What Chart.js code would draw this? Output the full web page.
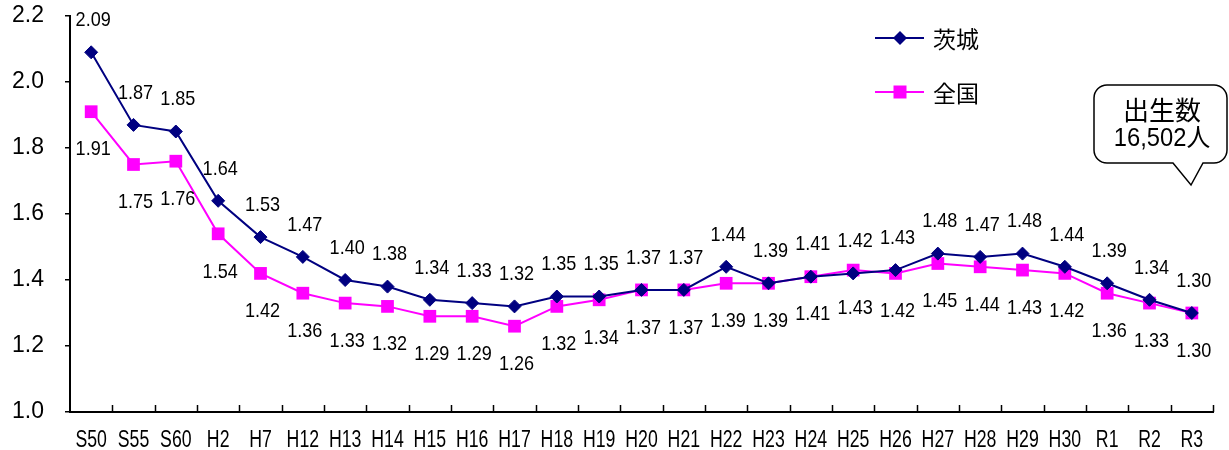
<!DOCTYPE html>
<html>
<head>
<meta charset="utf-8">
<script src="https://cdn.jsdelivr.net/npm/chart.js@4.4.1/dist/chart.umd.min.js"></script>
<style>
  html, body { margin: 0; padding: 0; background: #fff; }
  #wrap { width: 1229px; height: 450px; position: relative; }
</style>
</head>
<body>
<div id="wrap"><canvas id="c" width="1229" height="450"></canvas></div>
<script>
// 合計特殊出生率の推移（茨城・全国）
const categories = ['S50','S55','S60','H2','H7','H12','H13','H14','H15','H16','H17','H18','H19','H20','H21','H22','H23','H24','H25','H26','H27','H28','H29','H30','R1','R2','R3'];
const ibaraki = [2.09,1.87,1.85,1.64,1.53,1.47,1.40,1.38,1.34,1.33,1.32,1.35,1.35,1.37,1.37,1.44,1.39,1.41,1.42,1.43,1.48,1.47,1.48,1.44,1.39,1.34,1.30];
const zenkoku = [1.91,1.75,1.76,1.54,1.42,1.36,1.33,1.32,1.29,1.29,1.26,1.32,1.34,1.37,1.37,1.39,1.39,1.41,1.43,1.42,1.45,1.44,1.43,1.42,1.36,1.33,1.30];
const seriesNames = ['茨城', '全国'];
const yTicks = [1.0, 1.2, 1.4, 1.6, 1.8, 2.0, 2.2];
const calloutLines = ['出生数', '16,502人'];

const NUM_FONT = '"Liberation Sans", "Noto Sans CJK JP", sans-serif';
const JP_FONT = '"Noto Sans CJK JP", sans-serif';

// draw text squeezed horizontally (narrow gothic look)
function narrowText(ctx, text, x, y, sx) {
  ctx.save();
  ctx.translate(x, y);
  ctx.scale(sx, 1);
  ctx.fillText(text, 0, 0);
  ctx.restore();
}

// value labels: first series above its points, second below
const valueLabels = {
  id: 'valueLabels',
  afterDatasetsDraw(chart) {
    const ctx = chart.ctx;
    ctx.save();
    ctx.font = '21px ' + NUM_FONT;
    ctx.fillStyle = '#000';
    ctx.textAlign = 'center';
    ctx.textBaseline = 'middle';
    chart.data.datasets.forEach((ds, di) => {
      const meta = chart.getDatasetMeta(di);
      meta.data.forEach((pt, i) => {
        const dy = di === 0 ? -32 : 38;
        narrowText(ctx, ds.data[i].toFixed(2), pt.x + 2, pt.y + dy, 0.86);
      });
    });
    ctx.restore();
  }
};

// category labels and upward tick marks along the bottom axis
const categoryAxis = {
  id: 'categoryAxis',
  afterDraw(chart) {
    const x = chart.scales.x, ctx = chart.ctx;
    const n = chart.data.labels.length;
    const step = (x.right - x.left) / n;
    ctx.save();
    ctx.strokeStyle = '#000';
    ctx.lineWidth = 1.5;
    ctx.beginPath();
    for (let i = 1; i <= n; i++) {
      const px = Math.round(x.left + i * step) + 0.5;
      ctx.moveTo(px, x.top);
      ctx.lineTo(px, x.top - 7);
    }
    ctx.stroke();
    ctx.fillStyle = '#000';
    ctx.font = '23px ' + NUM_FONT;
    ctx.textAlign = 'center';
    ctx.textBaseline = 'middle';
    chart.data.labels.forEach((lab, i) => {
      narrowText(ctx, lab, x.getPixelForValue(i), x.top + 29, 0.77);
    });
    ctx.restore();
  }
};

function drawMarker(ctx, style, cx, cy, color) {
  ctx.fillStyle = color;
  ctx.beginPath();
  if (style === 'rectRot') {
    const r = 7;
    ctx.moveTo(cx, cy - r); ctx.lineTo(cx + r, cy); ctx.lineTo(cx, cy + r); ctx.lineTo(cx - r, cy);
    ctx.closePath();
  } else {
    const r = 6.5;
    ctx.rect(cx - r, cy - r, 2 * r, 2 * r);
  }
  ctx.fill();
}

// legend block at the upper right
const sideLegend = {
  id: 'sideLegend',
  afterDraw(chart) {
    const ctx = chart.ctx;
    ctx.save();
    const rows = [38, 92];
    chart.data.datasets.forEach((ds, di) => {
      const y = rows[di];
      ctx.strokeStyle = ds.borderColor;
      ctx.lineWidth = 2;
      ctx.beginPath();
      ctx.moveTo(875, y); ctx.lineTo(924, y);
      ctx.stroke();
      drawMarker(ctx, ds.pointStyle, 900, y, ds.pointBackgroundColor);
      ctx.fillStyle = '#000';
      ctx.font = '23px ' + JP_FONT;
      ctx.textAlign = 'left';
      ctx.textBaseline = 'middle';
      ctx.fillText(ds.label, 933, y + 1);
    });
    ctx.restore();
  }
};

// speech-bubble callout with the birth count
const callout = {
  id: 'callout',
  afterDraw(chart) {
    const ctx = chart.ctx;
    const l = 1094, r = 1227, t = 85, b = 163, rad = 13;
    ctx.save();
    ctx.beginPath();
    ctx.moveTo(l + rad, t);
    ctx.lineTo(r - rad, t);
    ctx.arcTo(r, t, r, t + rad, rad);
    ctx.lineTo(r, b - rad);
    ctx.arcTo(r, b, r - rad, b, rad);
    ctx.lineTo(1203, b);
    ctx.lineTo(1191, 185);
    ctx.lineTo(1173, b);
    ctx.lineTo(l + rad, b);
    ctx.arcTo(l, b, l, b - rad, rad);
    ctx.lineTo(l, t + rad);
    ctx.arcTo(l, t, l + rad, t, rad);
    ctx.closePath();
    ctx.fillStyle = '#fff';
    ctx.fill();
    ctx.strokeStyle = '#000';
    ctx.lineWidth = 1.5;
    ctx.stroke();
    ctx.fillStyle = '#000';
    ctx.textAlign = 'center';
    ctx.textBaseline = 'middle';
    ctx.font = '26px ' + JP_FONT;
    ctx.fillText(calloutLines[0], 1162, 110);
    ctx.font = '25px ' + NUM_FONT;
    narrowText(ctx, calloutLines[1], 1162, 139, 0.95);
    ctx.restore();
  }
};

new Chart(document.getElementById('c'), {
  type: 'line',
  data: {
    labels: categories,
    datasets: [
      {
        label: seriesNames[0],
        data: ibaraki,
        borderColor: '#000080',
        backgroundColor: '#000080',
        pointBackgroundColor: '#000080',
        pointBorderColor: '#000080',
        pointStyle: 'rectRot',
        pointRadius: 6.5,
        pointBorderWidth: 1,
        borderWidth: 2,
        tension: 0,
        clip: false
      },
      {
        label: seriesNames[1],
        data: zenkoku,
        borderColor: '#FF00FF',
        backgroundColor: '#FF00FF',
        pointBackgroundColor: '#FF00FF',
        pointBorderColor: '#FF00FF',
        pointStyle: 'rect',
        pointRadius: 9,
        pointBorderWidth: 0,
        borderWidth: 2,
        tension: 0,
        clip: false
      }
    ]
  },
  options: {
    responsive: false,
    animation: false,
    layout: { padding: { top: 16, right: 16, left: 0, bottom: 0 } },
    plugins: {
      legend: { display: false },
      tooltip: { enabled: false }
    },
    scales: {
      x: {
        type: 'category',
        offset: true,
        grid: { display: false, drawTicks: false },
        border: { display: true, color: '#000', width: 2 },
        ticks: { display: false },
        afterFit(s) { s.height = 38; s.paddingLeft = 0; s.paddingRight = 0; }
      },
      y: {
        min: 1.0,
        max: 2.2,
        afterBuildTicks(s) { s.ticks = yTicks.map(v => ({ value: v })); },
        grid: { drawOnChartArea: false, tickLength: 5, color: '#000', lineWidth: 1.5 },
        border: { display: true, color: '#000', width: 2 },
        ticks: {
          color: '#000',
          padding: 21,
          font: { family: '"Liberation Sans", sans-serif', size: 23 },
          callback: v => Number(v).toFixed(1)
        },
        afterFit(s) { s.width = 70; s.paddingTop = 0; s.paddingBottom = 0; }
      }
    }
  },
  plugins: [valueLabels, categoryAxis, sideLegend, callout]
});
</script>
</body>
</html>
